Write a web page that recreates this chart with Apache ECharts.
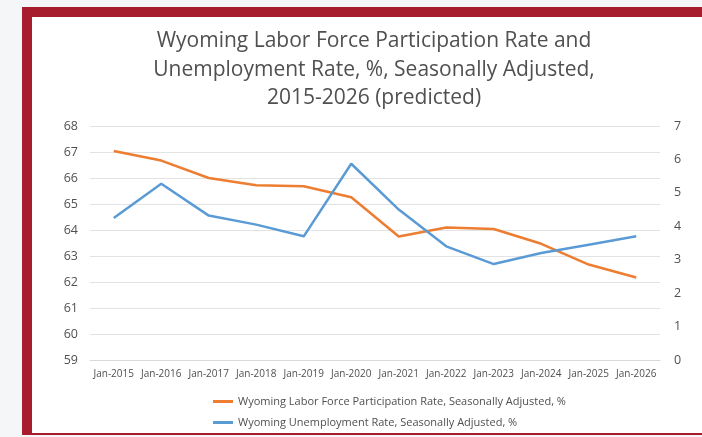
<!DOCTYPE html>
<html>
<head>
<meta charset="utf-8">
<script src="https://cdn.jsdelivr.net/npm/echarts@6/dist/echarts.min.js"></script>
<style>
  html, body { margin: 0; padding: 0; background: #f4f6f8; }
  #frame {
    position: absolute; left: 22px; top: 7px; width: 670px; height: 416px;
    background: #fff; border-left: 10px solid #a81d2d; border-top: 10px solid #a81d2d;
    border-bottom: 2px solid #a81d2d;
  }
  #main { position: absolute; left: 0; top: 0; width: 702px; height: 437px; }
</style>
</head>
<body>
<div id="frame"></div>
<div id="main"></div>
<script>
var years = ['Jan-2015', 'Jan-2016', 'Jan-2017', 'Jan-2018', 'Jan-2019', 'Jan-2020',
  'Jan-2021', 'Jan-2022', 'Jan-2023', 'Jan-2024', 'Jan-2025', 'Jan-2026'];
var participation = [67.04, 66.67, 66.0, 65.72, 65.68, 65.26, 63.75, 64.1, 64.04, 63.47, 62.67, 62.17];
var unemployment = [4.25, 5.27, 4.32, 4.05, 3.7, 5.87, 4.5, 3.4, 2.87, 3.2, 3.45, 3.7];

var chartDom = document.getElementById('main');
var myChart = echarts.init(chartDom);
var font = 'Open Sans';
var textColor = '#505050';
var option;

option = {
  backgroundColor: 'transparent',
  textStyle: { fontFamily: font },
  title: {
    text: 'Wyoming Labor Force Participation Rate and\nUnemployment Rate, %, Seasonally Adjusted,\n2015-2026 (predicted)',
    left: 369,
    textAlign: 'center',
    top: 22,
    textStyle: { fontFamily: font, fontSize: 21, fontWeight: 'normal', color: textColor, lineHeight: 28.5 }
  },
  legend: {
    orient: 'vertical',
    left: 208,
    top: 391,
    itemGap: 10,
    itemWidth: 20,
    itemHeight: 3,
    icon: 'rect',
    textStyle: { fontFamily: font, fontSize: 11, color: textColor },
    data: ['Wyoming Labor Force Participation Rate, Seasonally Adjusted, %',
      'Wyoming Unemployment Rate, Seasonally Adjusted, %']
  },
  grid: { left: 90, right: 42, top: 126, bottom: 77 },
  xAxis: {
    type: 'category',
    data: years,
    boundaryGap: true,
    axisLine: { lineStyle: { color: '#d9d9d9' } },
    axisTick: { show: false },
    axisLabel: { fontFamily: font, fontSize: 10, color: textColor, margin: 9, interval: 0 }
  },
  yAxis: [
    {
      type: 'value', min: 59, max: 68, interval: 1,
      axisLine: { show: false }, axisTick: { show: false },
      axisLabel: { fontFamily: font, fontSize: 12.5, color: textColor, margin: 12 },
      splitLine: { lineStyle: { color: '#e3e3e3' } }
    },
    {
      type: 'value', min: 0, max: 7, interval: 1,
      axisLine: { show: false }, axisTick: { show: false },
      axisLabel: { fontFamily: font, fontSize: 12.5, color: textColor, margin: 14 },
      splitLine: { show: false }
    }
  ],
  series: [
    {
      name: 'Wyoming Labor Force Participation Rate, Seasonally Adjusted, %',
      type: 'line',
      yAxisIndex: 0,
      data: participation,
      symbol: 'none',
      color: '#ed7d31',
      lineStyle: { width: 2.5 }
    },
    {
      name: 'Wyoming Unemployment Rate, Seasonally Adjusted, %',
      type: 'line',
      yAxisIndex: 1,
      data: unemployment,
      symbol: 'none',
      color: '#5b9bd5',
      lineStyle: { width: 2.5 }
    }
  ]
};

option && myChart.setOption(option);
</script>
</body>
</html>
